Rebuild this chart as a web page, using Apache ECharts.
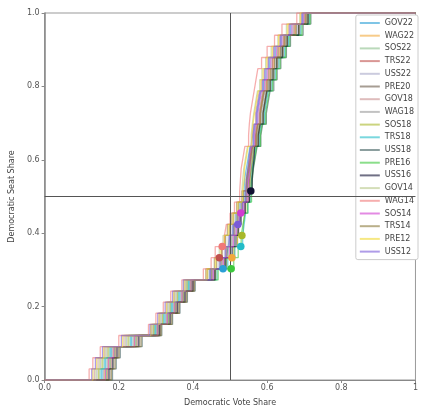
<!DOCTYPE html>
<html><head><meta charset="utf-8">
<script src="https://cdn.jsdelivr.net/npm/echarts@6/dist/echarts.min.js"></script>
<style>html,body{margin:0;padding:0;background:#fff}#c{width:421px;height:412px}</style>
</head><body><div id="c"></div>
<script>
// ---- data ----
const seatCount = 33;
const xTickLabels = ['0.0','0.2','0.4','0.6','0.8','1'];
const yTickLabels = ['0.0','0.2','0.4','0.6','0.8','1.0'];
const seriesNames = ['GOV22','WAG22','SOS22','TRS22','USS22','PRE20','GOV18','WAG18','SOS18','TRS18','USS18','PRE16','USS16','GOV14','WAG14','SOS14','TRS14','PRE12','USS12'];
// vote share at which the k-th Democratic seat is won (k = 1..33)
const GOV22 = [.155,.165,.18,.235,.30,.325,.345,.365,.39,.445,.49,.495,.50,.508,.516,.527,.538,.539,.544,.549,.554,.564,.567,.573,.578,.583,.59,.597,.607,.622,.638,.664,.696];
const WAG22 = [.162,.172,.186,.242,.304,.33,.35,.37,.394,.458,.485,.512,.52,.525,.53,.54,.55,.552,.555,.556,.561,.571,.575,.582,.587,.592,.60,.608,.618,.633,.647,.676,.704];
const SOS22 = [.148,.158,.174,.228,.296,.32,.34,.36,.386,.448,.473,.489,.502,.51,.518,.53,.542,.543,.548,.553,.558,.568,.571,.578,.583,.588,.595,.603,.613,.628,.643,.67,.70];
const TRS22 = [.169,.179,.192,.249,.308,.335,.355,.375,.398,.435,.458,.478,.485,.493,.505,.518,.532,.544,.549,.554,.559,.569,.573,.58,.585,.59,.598,.605,.615,.63,.645,.673,.702];
const USS22 = [.141,.151,.168,.221,.292,.315,.335,.355,.382,.445,.47,.485,.495,.505,.515,.528,.54,.55,.555,.56,.565,.575,.579,.587,.592,.597,.605,.614,.624,.639,.652,.682,.708];
const PRE20 = [.176,.186,.198,.256,.312,.34,.36,.38,.402,.45,.476,.492,.502,.511,.52,.532,.544,.553,.558,.563,.568,.578,.582,.591,.596,.601,.61,.619,.629,.644,.656,.688,.712];
const GOV18 = [.134,.144,.162,.214,.288,.31,.33,.35,.378,.452,.478,.49,.50,.512,.522,.533,.545,.548,.551,.553,.556,.561,.563,.569,.574,.579,.585,.592,.602,.617,.634,.658,.692];
const WAG18 = [.159,.169,.183,.239,.302,.328,.348,.368,.392,.453,.479,.496,.506,.514,.523,.534,.546,.548,.553,.558,.563,.573,.577,.584,.589,.594,.603,.611,.621,.636,.649,.679,.706];
const SOS18 = [.145,.155,.171,.225,.294,.318,.338,.358,.384,.462,.491,.51,.52,.536,.54,.546,.554,.556,.558,.561,.566,.576,.58,.589,.594,.599,.608,.616,.626,.641,.654,.685,.71];
const TRS18 = [.152,.162,.177,.232,.298,.322,.342,.362,.388,.465,.494,.513,.534,.538,.542,.548,.556,.558,.56,.565,.57,.58,.584,.593,.598,.603,.613,.622,.632,.647,.658,.691,.714];
const USS18 = [.183,.193,.204,.263,.316,.345,.365,.385,.406,.458,.485,.502,.512,.52,.528,.54,.552,.558,.563,.568,.573,.583,.588,.598,.603,.608,.618,.627,.637,.652,.663,.697,.718];
const PRE16 = [.166,.176,.189,.246,.306,.333,.353,.373,.396,.468,.51,.522,.53,.535,.54,.548,.558,.56,.562,.567,.572,.582,.586,.596,.601,.606,.615,.625,.635,.65,.661,.694,.716];
const USS16 = [.173,.183,.195,.253,.31,.338,.358,.378,.40,.46,.488,.506,.516,.523,.53,.541,.552,.56,.562,.565,.566,.576,.581,.589,.594,.599,.608,.616,.626,.641,.654,.685,.71];
const GOV14 = [.138,.148,.165,.218,.29,.312,.332,.352,.38,.435,.458,.471,.481,.493,.505,.518,.532,.534,.537,.542,.547,.557,.56,.564,.569,.574,.58,.586,.596,.611,.629,.652,.688];
const WAG14 = [.12,.13,.15,.20,.28,.30,.32,.34,.37,.428,.449,.46,.485,.49,.50,.512,.526,.528,.53,.535,.54,.55,.552,.555,.56,.565,.57,.575,.585,.60,.62,.64,.68];
const SOS14 = [.164,.173,.187,.243,.305,.331,.351,.371,.395,.455,.482,.499,.509,.517,.525,.537,.548,.55,.553,.556,.558,.566,.569,.575,.58,.585,.593,.60,.61,.625,.64,.667,.698];
const TRS14 = [.18,.19,.201,.26,.314,.343,.363,.383,.404,.44,.464,.478,.488,.499,.51,.523,.536,.546,.551,.556,.561,.571,.575,.582,.587,.592,.602,.61,.62,.636,.648,.678,.705];
const PRE12 = [.13,.14,.159,.21,.286,.308,.328,.348,.376,.438,.461,.475,.485,.496,.508,.521,.534,.538,.539,.544,.549,.559,.562,.566,.571,.576,.583,.589,.599,.614,.631,.655,.69];
const USS12 = [.127,.137,.156,.207,.284,.305,.325,.345,.374,.447,.473,.488,.498,.508,.526,.534,.542,.545,.548,.551,.555,.562,.565,.571,.576,.581,.588,.594,.604,.619,.636,.661,.694];
// actual results (vote share, seat share)
const dotNames = ['GOV22','PRE16','TRS22','WAG22','WAG14','TRS18','SOS18','USS12','SOS14','USS16'];
const dotVote  = [0.481,0.503,0.471,0.505,0.479,0.529,0.532,0.521,0.529,0.556];
const dotSeat  = [0.303,0.303,0.333,0.333,0.364,0.364,0.394,0.424,0.455,0.515];

// ---- styles ----
const palette = ['#2a9fd6','#f2a93b','#8cc08c','#c0504d','#a8a8c8','#6b5b4b','#c89090','#9a9a9a','#a8b82a','#22bcc8','#3f5f5f','#3cc83c','#111133','#b8c888','#f07878','#d03cd0','#8b7a3a','#f0d830','#7a5ad8'];
const thresholds = [GOV22,WAG22,SOS22,TRS22,USS22,PRE20,GOV18,WAG18,SOS18,TRS18,USS18,PRE16,USS16,GOV14,WAG14,SOS14,TRS14,PRE12,USS12];

function stepPoints(th){
  const pts = [[0,0]];
  th.forEach((v,i)=>{ pts.push([v,i/seatCount]); pts.push([v,(i+1)/seatCount]); });
  pts.push([1,1]);
  return pts;
}
const font = 'DejaVu Sans';
const series = seriesNames.map((n,i)=>({
  name:n, type:'line', data:stepPoints(thresholds[i]), showSymbol:false, symbol:'none',
  color:palette[i], lineStyle:{width:1.3, opacity:0.6}, z:2, silent:true
}));
series.push({
  name:'actual', type:'scatter', symbolSize:7.5, z:5, silent:true,
  data: dotNames.map((n,i)=>({value:[dotVote[i],dotSeat[i]], itemStyle:{color:palette[seriesNames.indexOf(n)], opacity:1}})),
  markLine:{silent:true, symbol:'none', label:{show:false}, lineStyle:{color:'#555',width:1,type:'solid'},
    data:[{xAxis:0.5},{yAxis:0.5}]}
});

const chart = echarts.init(document.getElementById('c'), null, {renderer:'canvas'});
chart.setOption({
  animation:false,
  backgroundColor:'#fff',
  grid:{left:43, right:1, top:13, bottom:30, show:true, borderColor:'#999', borderWidth:1},
  xAxis:{type:'value', min:0, max:1, interval:0.2,
    name:'Democratic Vote Share', nameLocation:'middle', nameGap:19,
    nameTextStyle:{fontSize:8, color:'#444', fontFamily:font},
    axisLine:{lineStyle:{color:'#888'}}, axisTick:{length:3, lineStyle:{color:'#888'}},
    splitLine:{show:false},
    axisLabel:{fontSize:8, color:'#555', fontFamily:font, margin:4, formatter:(v)=>xTickLabels[Math.round(v/0.2)]}},
  yAxis:{type:'value', min:0, max:1, interval:0.2,
    name:'Democratic Seat Share', nameLocation:'middle', nameGap:27,
    nameTextStyle:{fontSize:8, color:'#444', fontFamily:font},
    axisLine:{show:true, lineStyle:{color:'#888', width:1.5}}, axisTick:{show:true, length:3, lineStyle:{color:'#888'}},
    splitLine:{show:false},
    axisLabel:{fontSize:8, color:'#555', fontFamily:font, margin:5, formatter:(v)=>yTickLabels[Math.round(v/0.2)]}},
  legend:{data:seriesNames, orient:'vertical', right:3, top:15, icon:'rect', itemWidth:20, itemHeight:2, itemGap:4.7,
    itemStyle:{opacity:0.6},
    textStyle:{fontSize:8, color:'#444', fontFamily:font, padding:[0,0,0,0]}, backgroundColor:'#fff', borderColor:'#ccc',
    borderWidth:1, borderRadius:2, padding:[4,4,4,4]},
  series:series
});
</script></body></html>
